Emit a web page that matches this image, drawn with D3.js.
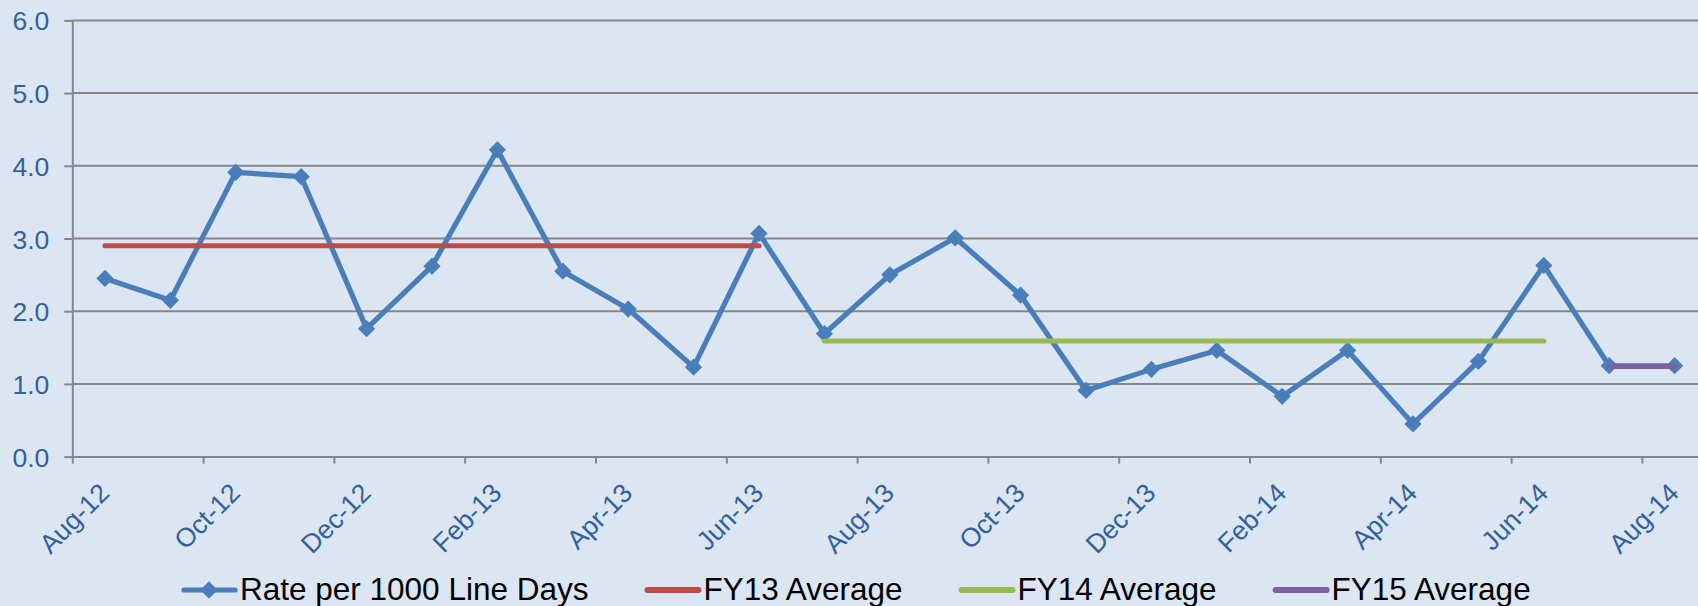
<!DOCTYPE html>
<html>
<head>
<meta charset="utf-8">
<script src="https://cdn.jsdelivr.net/npm/d3@7"></script>
<style>
  body { margin: 0; background: #dce6f2; }
  svg { display: block; font-family: "Liberation Sans", Arial, sans-serif; }
</style>
</head>
<body>
<svg id="chart" width="1698" height="606"></svg>
<script>
// data
const months = ["Aug-12", "Sep-12", "Oct-12", "Nov-12", "Dec-12", "Jan-13", "Feb-13", "Mar-13",
  "Apr-13", "May-13", "Jun-13", "Jul-13", "Aug-13", "Sep-13", "Oct-13", "Nov-13", "Dec-13",
  "Jan-14", "Feb-14", "Mar-14", "Apr-14", "May-14", "Jun-14", "Jul-14", "Aug-14"];
const rates = [2.45, 2.15, 3.91, 3.85, 1.76, 2.62, 4.22, 2.55, 2.03, 1.23, 3.07, 1.69, 2.50,
  3.01, 2.22, 0.91, 1.20, 1.46, 0.83, 1.46, 0.45, 1.31, 2.63, 1.25, 1.25];
const averages = [
  {name: "FY13 Average", value: 2.90, from: 0, to: 10, color: "#be4b48"},
  {name: "FY14 Average", value: 1.59, from: 11, to: 22, color: "#98b954"},
  {name: "FY15 Average", value: 1.24, from: 23, to: 24, color: "#7d60a0"},
];
const yTicks = [0, 1, 2, 3, 4, 5, 6];
const xTickIdx = [0, 2, 4, 6, 8, 10, 12, 14, 16, 18, 20, 22, 24];

const W = 1698, H = 606;
const plotLeft = 72.3, plotTop = 20.4, plotBottom = 456.6;
const monthW = 65.4;
const rateColor = "#4a7ebb";
const gridColor = "#868686";
const labelColor = "#34609c";

const svg = d3.select("#chart");

let x = d3.scaleLinear().domain([0, months.length]).range([plotLeft, plotLeft + months.length * monthW]);
let y = d3.scaleLinear().domain([0, 6]).range([plotBottom, plotTop]);

// gridlines
svg.append("g")
  .selectAll("line")
  .data(yTicks.filter(d => d > 0))
  .join("line")
  .attr("x1", plotLeft).attr("x2", W)
  .attr("y1", d => y(d)).attr("y2", d => y(d))
  .style("stroke", gridColor).style("stroke-width", 2);

// y axis
let yAxis = svg.append("g")
  .attr("transform", `translate(${plotLeft},0)`)
  .call(d3.axisLeft(y).tickValues(yTicks).tickFormat(d3.format(".1f")).tickSize(8).tickSizeOuter(0));
yAxis.select(".domain").style("stroke", gridColor).style("stroke-width", 2);
yAxis.selectAll(".tick line").style("stroke", gridColor).style("stroke-width", 2);
yAxis.selectAll(".tick text")
  .attr("x", -23).attr("dy", "0.36em")
  .style("font-size", "26.5px").style("fill", labelColor).style("font-family", "Liberation Sans, Arial, sans-serif");

// x axis
let xAxis = svg.append("g")
  .attr("transform", `translate(0,${plotBottom})`)
  .call(d3.axisBottom(x).tickValues(xTickIdx).tickFormat(i => months[i]).tickSize(7).tickSizeOuter(0));
xAxis.select(".domain").style("stroke", gridColor).style("stroke-width", 2);
xAxis.selectAll(".tick line").style("stroke", gridColor).style("stroke-width", 2);
xAxis.selectAll(".tick text")
  .attr("x", 0).attr("y", 0).attr("dy", 0)
  .attr("text-anchor", "end")
  .attr("transform", "translate(38,38) rotate(-45)")
  .style("font-size", "26.5px").style("fill", labelColor).style("font-family", "Liberation Sans, Arial, sans-serif");

// rate series
let line = d3.line().x((d, i) => x(i + 0.5)).y(d => y(d));
svg.append("path")
  .datum(rates)
  .attr("d", line)
  .style("fill", "none").style("stroke", rateColor).style("stroke-width", 5.2)
  .style("stroke-linejoin", "round");

let diamond = d3.symbol().type(d3.symbolDiamond2).size(190);
svg.append("g")
  .selectAll("path")
  .data(rates)
  .join("path")
  .attr("d", diamond)
  .attr("transform", (d, i) => `translate(${x(i + 0.5)},${y(d)})`)
  .style("fill", rateColor);

// average lines
svg.append("g")
  .selectAll("line")
  .data(averages)
  .join("line")
  .attr("x1", d => x(d.from + 0.5)).attr("x2", d => x(d.to + 0.5))
  .attr("y1", d => y(d.value)).attr("y2", d => y(d.value))
  .style("stroke", d => d.color).style("stroke-width", 5.2)
  .style("stroke-linecap", "round");

// legend
let legendItems = [{name: "Rate per 1000 Line Days", color: rateColor, marker: true}]
  .concat(averages.map(a => ({name: a.name, color: a.color, marker: false})));
let lx = 182;
const ly = 590;
legendItems.forEach((item) => {
  let g = svg.append("g");
  g.append("line")
    .attr("x1", lx + 2).attr("x2", lx + 53)
    .attr("y1", ly).attr("y2", ly)
    .style("stroke", item.color).style("stroke-width", item.marker ? 5.2 : 6)
    .style("stroke-linecap", "round");
  if (item.marker) {
    g.append("path")
      .attr("d", diamond)
      .attr("transform", `translate(${lx + 27},${ly})`)
      .style("fill", item.color);
  }
  let t = g.append("text")
    .attr("x", lx + 58).attr("y", ly + 10)
    .text(item.name)
    .style("font-size", "31.5px").style("fill", "#000");
  lx = lx + 58 + t.node().getComputedTextLength() + 57;
});
</script>
</body>
</html>
